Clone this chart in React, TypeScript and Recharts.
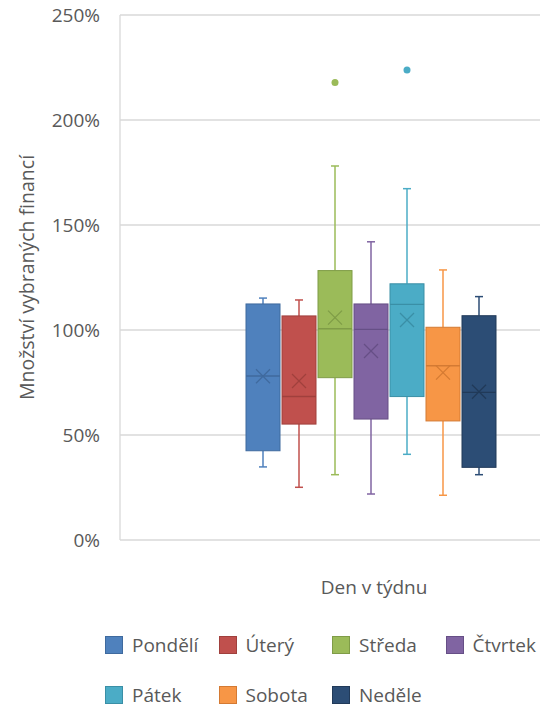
import { ComposedChart, Bar, XAxis, YAxis, CartesianGrid } from 'recharts';

const days = ['Pondělí', 'Úterý', 'Středa', 'Čtvrtek', 'Pátek', 'Sobota', 'Neděle'];
const minValues = [34.8, 25.1, 31.1, 21.9, 40.8, 21.3, 31.1];
const q1Values = [42.5, 55.2, 77.3, 57.6, 68.3, 56.7, 34.6];
const medianValues = [78.1, 68.3, 100.6, 100.3, 112.2, 83.0, 70.3];
const q3Values = [112.4, 106.7, 128.3, 112.4, 122.0, 101.3, 106.8];
const maxValues = [115.2, 114.3, 178.1, 142.0, 167.3, 128.6, 115.9];
const meanValues = [78.0, 75.7, 105.9, 90.0, 104.8, 79.7, 70.6];
const outlierValues: (number | null)[] = [null, null, 217.8, null, 223.8, null, null];
const yTicks = [0, 50, 100, 150, 200, 250];

const fills = ['#4F81BD', '#C0504D', '#9BBB59', '#8064A2', '#4BACC6', '#F79646', '#2C4D75'];
const strokes = ['#3F6A9E', '#A0403D', '#7F9C47', '#664F86', '#3A8FA6', '#D47A33', '#213A59'];

const FONT = '"Open Sans", sans-serif';
const TEXT = '#595959';

const rows = days.map((day, i) => ({
  day,
  min: minValues[i],
  q1: q1Values[i],
  median: medianValues[i],
  q3: q3Values[i],
  max: maxValues[i],
  mean: meanValues[i],
  outlier: outlierValues[i],
}));

function BoxShape(props: any) {
  const { x, y, width, height, payload, index } = props;
  if (!payload || !height) return null;
  const base = y + height;
  const py = (v: number) => base - (v / payload.max) * height;
  const cx = x + width / 2;
  const fill = fills[index];
  const stroke = strokes[index];
  const m = py(payload.mean);
  const s = 7;
  return (
    <g>
      <line x1={cx} x2={cx} y1={py(payload.max)} y2={py(payload.q3)} stroke={fill} strokeWidth={1.5} />
      <line x1={cx} x2={cx} y1={py(payload.q1)} y2={py(payload.min)} stroke={fill} strokeWidth={1.5} />
      <line x1={cx - 4} x2={cx + 4} y1={py(payload.max)} y2={py(payload.max)} stroke={fill} strokeWidth={1.5} />
      <line x1={cx - 4} x2={cx + 4} y1={py(payload.min)} y2={py(payload.min)} stroke={fill} strokeWidth={1.5} />
      <rect
        x={x}
        y={py(payload.q3)}
        width={width}
        height={py(payload.q1) - py(payload.q3)}
        fill={fill}
        stroke={stroke}
        strokeWidth={1}
      />
      <line x1={x} x2={x + width} y1={py(payload.median)} y2={py(payload.median)} stroke={stroke} strokeWidth={1.4} />
      <line x1={cx - s} x2={cx + s} y1={m - s} y2={m + s} stroke={stroke} strokeWidth={1.3} />
      <line x1={cx - s} x2={cx + s} y1={m + s} y2={m - s} stroke={stroke} strokeWidth={1.3} />
      {payload.outlier != null && <circle cx={cx} cy={py(payload.outlier)} r={3.5} fill={fill} />}
    </g>
  );
}

export default function App() {
  return (
    <div style={{ position: 'absolute', left: 0, top: 0, width: 548, height: 710, background: '#fff', fontFamily: FONT }}>
      <ComposedChart
        width={548}
        height={710}
        data={rows}
        margin={{ top: 15, right: 8, left: 0, bottom: 100 }}
        barSize={34}
      >
        <CartesianGrid vertical={false} stroke="#d9d9d9" strokeWidth={1.3} />
        <XAxis
          dataKey="day"
          type="category"
          padding={{ left: 125, right: 43 }}
          height={70}
          tick={false}
          tickLine={false}
          axisLine={false}
          label={({ viewBox }: any) => (
            <text
              x={viewBox.x + viewBox.width * 0.605}
              y={viewBox.y + 47}
              textAnchor="middle"
              dominantBaseline="central"
              fill={TEXT}
              fontSize={19}
              fontFamily={FONT}
            >
              Den v týdnu
            </text>
          )}
        />
        <YAxis
          type="number"
          domain={[0, 250]}
          ticks={yTicks}
          width={120}
          interval={0}
          tickFormatter={(v: number) => `${v}%`}
          tick={{ fill: TEXT, fontSize: 19, fontFamily: FONT }}
          tickLine={false}
          tickMargin={14}
          axisLine={{ stroke: '#d9d9d9', strokeWidth: 1.3 }}
          label={({ viewBox }: any) => {
            const cy = viewBox.y + viewBox.height / 2;
            return (
              <text
                x={26}
                y={cy}
                transform={`rotate(-90, 26, ${cy})`}
                textAnchor="middle"
                dominantBaseline="central"
                fill={TEXT}
                fontSize={19.5}
                fontFamily={FONT}
              >
                Množství vybraných financí
              </text>
            );
          }}
        />
        <Bar dataKey="max" isAnimationActive={false} shape={<BoxShape />} />
      </ComposedChart>
      <div style={{ position: 'absolute', left: 105, top: 636, width: 443, display: 'grid', gridTemplateColumns: '113.5px 113.5px 113.5px 113.5px', rowGap: 32 }}>
        {days.map((d, i) => (
          <div key={d} style={{ display: 'flex', alignItems: 'center', height: 18 }}>
            <span style={{ width: 16, height: 16, background: fills[i], border: `1px solid ${strokes[i]}`, marginRight: 9, flex: 'none' }} />
            <span style={{ color: TEXT, fontSize: 19, whiteSpace: 'nowrap' }}>{d}</span>
          </div>
        ))}
      </div>
    </div>
  );
}
